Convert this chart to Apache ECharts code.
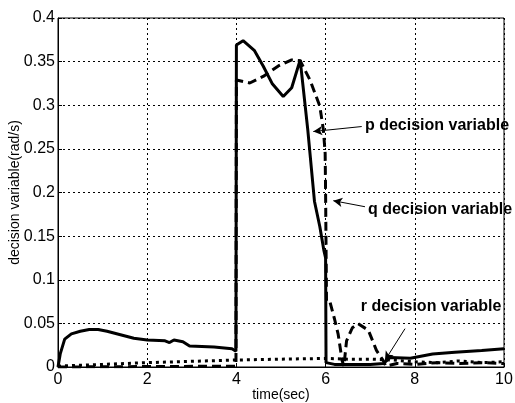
<!DOCTYPE html>
<html>
<head>
<meta charset="utf-8">
<script src="https://cdn.jsdelivr.net/npm/echarts@6/dist/echarts.min.js"></script>
<style>
  html, body { margin: 0; padding: 0; background: #fff; }
  #chart { width: 515px; height: 403px; }
</style>
</head>
<body>
<div id="chart"></div>
<script>
// time (s) / decision variable (rad/s) pairs
const pDecision = [
  [0, 0], [0.05, 0.015], [0.15, 0.032], [0.3, 0.038], [0.5, 0.041], [0.7, 0.043],
  [0.9, 0.043], [1.1, 0.041], [1.4, 0.037], [1.7, 0.033], [2.0, 0.031], [2.4, 0.030],
  [2.5, 0.028], [2.6, 0.031], [2.8, 0.029], [2.95, 0.024], [3.5, 0.023], [3.9, 0.021],
  [3.99, 0.018], [4.0, 0.369], [4.15, 0.374], [4.4, 0.363], [4.6, 0.345], [4.8, 0.325],
  [5.05, 0.310], [5.24, 0.320], [5.43, 0.352], [5.6, 0.272], [5.75, 0.19], [5.87, 0.161],
  [5.96, 0.134], [6.0, 0.125], [6.01, 0.005], [6.2, 0.003], [7.0, 0.003], [7.3, 0.004],
  [7.45, 0.011], [7.9, 0.010], [8.4, 0.015], [8.9, 0.017], [9.5, 0.019], [10, 0.021]
];

const qDecision = [
  [0, 0], [3.99, 0.001], [4.0, 0.329], [4.3, 0.3255], [4.6, 0.333], [4.94, 0.345],
  [5.24, 0.352], [5.43, 0.351], [5.65, 0.329], [5.87, 0.299], [5.95, 0.272], [5.99, 0.245],
  [6.0, 0.2], [6.02, 0.076], [6.09, 0.076], [6.2, 0.055], [6.28, 0.038], [6.37, 0.0075],
  [6.41, 0.001], [6.47, 0.030], [6.6, 0.045], [6.73, 0.0497], [6.96, 0.042], [7.14, 0.019],
  [7.29, 0.0075], [7.35, 0.001], [7.6, 0.004], [8, 0.003], [8.5, 0.005], [9, 0.004],
  [9.5, 0.005], [10, 0.004]
];

const rDecision = [
  [0, 0.001], [1, 0.003], [2, 0.005], [3, 0.0065], [4, 0.008], [5, 0.009], [6, 0.0098],
  [6.5, 0.009], [7, 0.009], [7.5, 0.008], [8, 0.006], [8.5, 0.005], [9, 0.007],
  [9.5, 0.005], [10, 0.006]
];

// annotation arrows: [from, to] in data coordinates
const arrowP = [[6.81, 0.2756], [5.724, 0.2699]];
const arrowQ = [[6.883, 0.1837], [6.173, 0.1906]];
const arrowR = [[7.78, 0.0439], [7.33, 0.0075]];

// annotation text anchors (left edge, vertical middle)
const labelTexts = ['p decision variable', 'q decision variable', 'r decision variable'];
const labelAnchors = [[6.883, 0.2772], [6.95, 0.180], [6.79, 0.0695]];

const xTicks = [0, 2, 4, 6, 8, 10];
const yTicks = [0, 0.05, 0.1, 0.15, 0.2, 0.25, 0.3, 0.35, 0.4];

const FONT = 'Liberation Sans, Arial, sans-serif';

const chart = echarts.init(document.getElementById('chart'), null, { renderer: 'canvas' });

function arrowLine(pair) {
  return [{ coord: pair[0] }, { coord: pair[1] }];
}

chart.setOption({
  animation: false,
  backgroundColor: '#fff',
  grid: {
    left: 58, right: 11, top: 18, bottom: 36,
    show: true, borderColor: '#000', borderWidth: 1,
    containLabel: false, outerBoundsMode: 'none'
  },
  xAxis: {
    type: 'value', min: xTicks[0], max: xTicks[xTicks.length - 1], interval: 2,
    name: 'time(sec)', nameLocation: 'middle', nameGap: 21, nameMoveOverlap: false,
    nameTextStyle: { fontFamily: FONT, fontSize: 14, color: '#000' },
    axisLine: { show: true, lineStyle: { color: '#000', width: 1 } },
    axisTick: { show: true, inside: true, length: 4, lineStyle: { color: '#000' } },
    axisLabel: { fontFamily: FONT, fontSize: 16, color: '#000', margin: 5 },
    splitLine: { show: true, lineStyle: { color: '#000', type: [2, 3], width: 1 } }
  },
  yAxis: {
    type: 'value', min: yTicks[0], max: yTicks[yTicks.length - 1], interval: 0.05,
    name: 'decision variable(rad/s)', nameLocation: 'middle', nameGap: 36, nameMoveOverlap: false,
    nameTextStyle: { fontFamily: FONT, fontSize: 14, color: '#000' },
    axisLine: { show: true, lineStyle: { color: '#000', width: 1 } },
    axisTick: { show: true, inside: true, length: 4, lineStyle: { color: '#000' } },
    axisLabel: { fontFamily: FONT, fontSize: 16, color: '#000', margin: 3 },
    splitLine: { show: true, lineStyle: { color: '#000', type: [2, 3], width: 1 } }
  },
  series: [
    {
      name: 'r', type: 'line', data: rDecision, showSymbol: false, silent: true,
      lineStyle: { color: '#000', width: 3, type: [3, 4] }
    },
    {
      name: 'q', type: 'line', data: qDecision, showSymbol: false, silent: true,
      lineStyle: { color: '#000', width: 3, type: [9, 5] }
    },
    {
      name: 'p', type: 'line', data: pDecision, showSymbol: false, silent: true,
      lineStyle: { color: '#000', width: 3 },
      markLine: {
        silent: true, animation: false,
        symbol: ['none', 'arrow'], symbolSize: [7, 9],
        label: { show: false },
        lineStyle: { color: '#000', width: 1, type: 'solid' },
        data: [arrowLine(arrowP), arrowLine(arrowQ), arrowLine(arrowR)]
      }
    }
  ]
});

// place the annotation texts at their data anchors
chart.setOption({
  graphic: labelTexts.map((txt, i) => {
    const pt = chart.convertToPixel({ gridIndex: 0 }, labelAnchors[i]);
    return {
      type: 'text', x: pt[0], y: pt[1], z: 100,
      style: {
        text: txt, fill: '#000', font: 'bold 16px ' + FONT,
        textAlign: 'left', textVerticalAlign: 'middle'
      }
    };
  })
});
</script>
</body>
</html>
